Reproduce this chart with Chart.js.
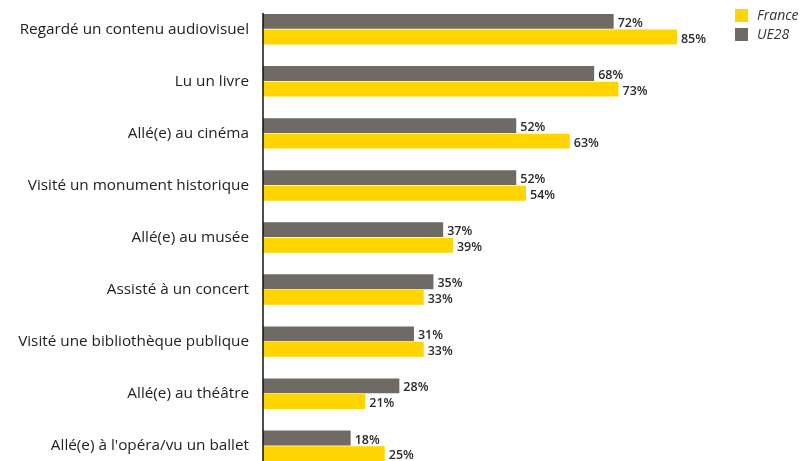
<!DOCTYPE html>
<html>
<head>
<meta charset="utf-8">
<script src="https://cdn.jsdelivr.net/npm/chart.js@4"></script>
<style>
  html, body { margin: 0; padding: 0; background: #fff; overflow: hidden; }
  .wrap { width: 802px; height: 515px; position: relative; margin-top: -20px; }
</style>
</head>
<body>
<div class="wrap"><canvas class="js-pratiques"></canvas></div>
<script>
const categories = [
  "Regardé un contenu audiovisuel",
  "Lu un livre",
  "Allé(e) au cinéma",
  "Visité un monument historique",
  "Allé(e) au musée",
  "Assisté à un concert",
  "Visité une bibliothèque publique",
  "Allé(e) au théâtre",
  "Allé(e) à l'opéra/vu un ballet",
];
const ue28 = [72, 68, 52, 52, 37, 35, 31, 28, 18];
const france = [85, 73, 63, 54, 39, 33, 33, 21, 25];

const YELLOW = "#ffd400";
const GREY = "#6f6a64";

// labels at the end of each bar + the vertical axis line (starts a bit below the top)
const barLabels = {
  id: "barLabels",
  afterDatasetsDraw(chart) {
    const ctx = chart.ctx;
    const top = chart.canvas.getBoundingClientRect().top;
    const area = chart.chartArea;
    ctx.save();
    ctx.strokeStyle = "#111";
    ctx.lineWidth = 1.5;
    ctx.beginPath();
    ctx.moveTo(area.left, 13 - top);
    ctx.lineTo(area.left, area.bottom);
    ctx.stroke();

    ctx.font = "600 12.5px 'Open Sans'";
    ctx.fillStyle = "#2b2b2b";
    ctx.textBaseline = "middle";
    chart.data.datasets.forEach((ds, i) => {
      chart.getDatasetMeta(i).data.forEach((bar, j) => {
        ctx.fillText(ds.data[j] + "%", bar.x + 4, bar.y + 2);
      });
    });
    ctx.restore();
  },
};

// small legend top right: France first, then UE28
const cornerLegend = {
  id: "cornerLegend",
  afterDraw(chart) {
    const ctx = chart.ctx;
    const top = chart.canvas.getBoundingClientRect().top;
    const items = [["France", YELLOW], ["UE28", GREY]];
    ctx.save();
    ctx.font = "italic 14px 'Open Sans'";
    ctx.textBaseline = "middle";
    items.forEach(([txt, col], i) => {
      const y = 9 + i * 19 - top;
      ctx.fillStyle = col;
      ctx.fillRect(735, y, 13, 13);
      ctx.fillStyle = "#333";
      ctx.fillText(txt, 757, y + 7);
    });
    ctx.restore();
  },
};

const chartPratiques = function () {
  const el = document.querySelector(".js-pratiques");

  new Chart(el, {
    type: "bar",
    data: {
      labels: categories,
      datasets: [
        { label: "UE28", backgroundColor: GREY, data: ue28 },
        { label: "France", backgroundColor: YELLOW, data: france },
      ],
    },
    options: {
      indexAxis: "y",
      maintainAspectRatio: false,
      animation: false,
      layout: { padding: { top: 0, right: 52, bottom: 0, left: 0 } },
      datasets: { bar: { categoryPercentage: 0.6, barPercentage: 0.95 } },
      scales: {
        x: {
          display: false,
          min: 0,
          max: 100,
        },
        y: {
          afterFit: (scale) => { scale.width = 263; },
          grid: { display: false, drawTicks: false },
          border: { display: false },
          ticks: {
            color: "#222",
            padding: 14,
            font: { family: "'Open Sans'", size: 15.3 },
          },
        },
      },
      plugins: {
        legend: { display: false },
        tooltip: { enabled: false },
      },
    },
    plugins: [barLabels, cornerLegend],
  });
};

document.addEventListener("DOMContentLoaded", chartPratiques);
</script>
</body>
</html>
